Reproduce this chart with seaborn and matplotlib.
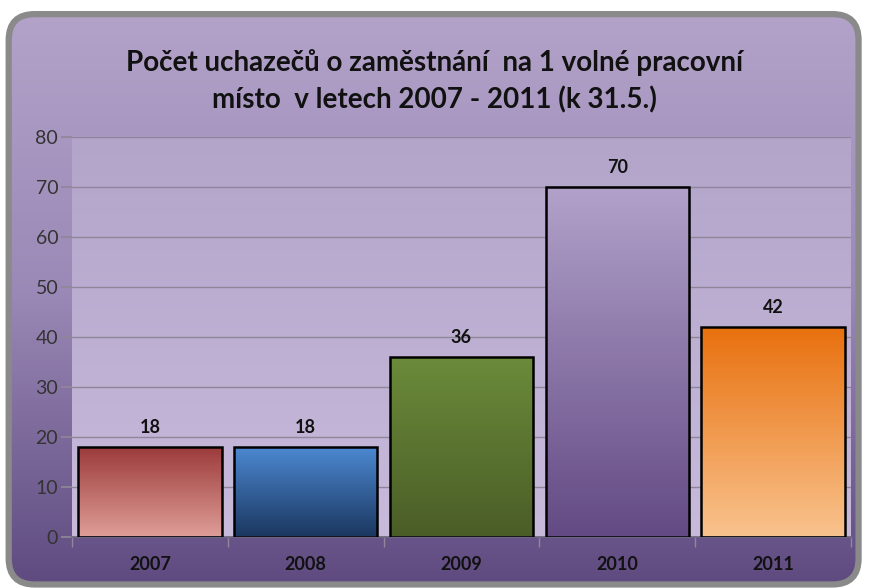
import matplotlib
matplotlib.use("Agg")
import matplotlib.pyplot as plt
import numpy as np
import seaborn as sns
from matplotlib.colors import LinearSegmentedColormap
from matplotlib.patches import FancyBboxPatch

# data
years = ["2007", "2008", "2009", "2010", "2011"]
values = [18, 18, 36, 70, 42]
# gradient colours per bar (top, bottom)
bar_tops = ["#9c3b3b", "#4c88d2", "#6b8b3a", "#b2a2ca", "#e8700e"]
bar_bottoms = ["#df9e98", "#1b375f", "#4a5d27", "#634a84", "#f9c38e"]
title = "Počet uchazečů o zaměstnání  na 1 volné pracovní\nmísto  v letech 2007 - 2011 (k 31.5.)"

sns.set_theme(style="white")
plt.rcParams["font.family"] = ["Lato", "DejaVu Sans"]

fig = plt.figure(figsize=(8.69, 5.88), dpi=100)
fig.patch.set_facecolor("white")

# background panel with rounded corners
bg = fig.add_axes([0, 0, 1, 1], zorder=-5)
bg.set_xlim(0, 1)
bg.set_ylim(0, 1)
bg.axis("off")
grad = np.linspace(0, 1, 256).reshape(-1, 1)
bgcmap = LinearSegmentedColormap.from_list("bg", ["#b4a4ca", "#9a88b6", "#5e4a7f"])
frame = FancyBboxPatch((0.010, 0.006), 0.978, 0.970, boxstyle="round,pad=0,rounding_size=0.03",
                       transform=bg.transAxes, facecolor="none", edgecolor="#8a8a8a", linewidth=4.5,
                       mutation_aspect=869 / 588)
bg.add_patch(frame)
im = bg.imshow(grad, extent=[0, 1, 0, 1], aspect="auto", cmap=bgcmap, origin="upper")
im.set_clip_path(frame)

ax = fig.add_axes([0.083, 0.087, 0.896, 0.68])
sns.barplot(x=years, y=values, ax=ax, width=0.92, color="white", edgecolor="black", linewidth=1.8)

ax.set_ylim(0, 80)
ax.set_yticks(range(0, 81, 10))
xmin, xmax = ax.get_xlim()

# plot area gradient
pcmap = LinearSegmentedColormap.from_list("pa", ["#b3a5ca", "#c7badb"])
ax.imshow(grad, extent=[xmin, xmax, 0, 80], aspect="auto", cmap=pcmap, origin="upper", zorder=0)

for i, p in enumerate(ax.patches):
    x0, y0 = p.get_x(), p.get_y()
    w, h = p.get_width(), p.get_height()
    cm = LinearSegmentedColormap.from_list("b%d" % i, [bar_tops[i], bar_bottoms[i]])
    g = ax.imshow(grad, extent=[x0, x0 + w, y0, y0 + h], aspect="auto", cmap=cm, origin="upper", zorder=2)
    g.set_clip_path(p)
    p.set_facecolor("none")
    p.set_zorder(3)

ax.set_xlim(xmin, xmax)
ax.set_ylim(0, 80)
ax.yaxis.grid(True, color="#8f8799", linewidth=1)
ax.set_axisbelow(True)
for s in ["top", "right", "left"]:
    ax.spines[s].set_visible(False)
ax.spines["bottom"].set_color("#6f6580")
ax.spines["bottom"].set_linewidth(1.2)

ax.bar_label(ax.containers[0], fmt="%d", padding=8, fontsize=13, fontweight="bold", color="#111111")

ax.tick_params(axis="y", length=8, color="#8f8799", labelsize=14, labelcolor="#333333", pad=2, left=True)
ax.tick_params(axis="x", length=0, labelsize=13, labelcolor="#111111", pad=14)
for lab in ax.get_xticklabels():
    lab.set_fontweight("bold")
ax.set_xticks(np.arange(-0.5, 5, 1), minor=True)
ax.tick_params(axis="x", which="minor", length=7, color="#8f8799", bottom=True)
ax.set_xlabel("")
ax.set_ylabel("")

fig.text(0.5, 0.862, title, ha="center", va="center", fontsize=20, fontweight="bold",
         color="#111111", linespacing=1.45)

fig.savefig("out.png", dpi=100)
